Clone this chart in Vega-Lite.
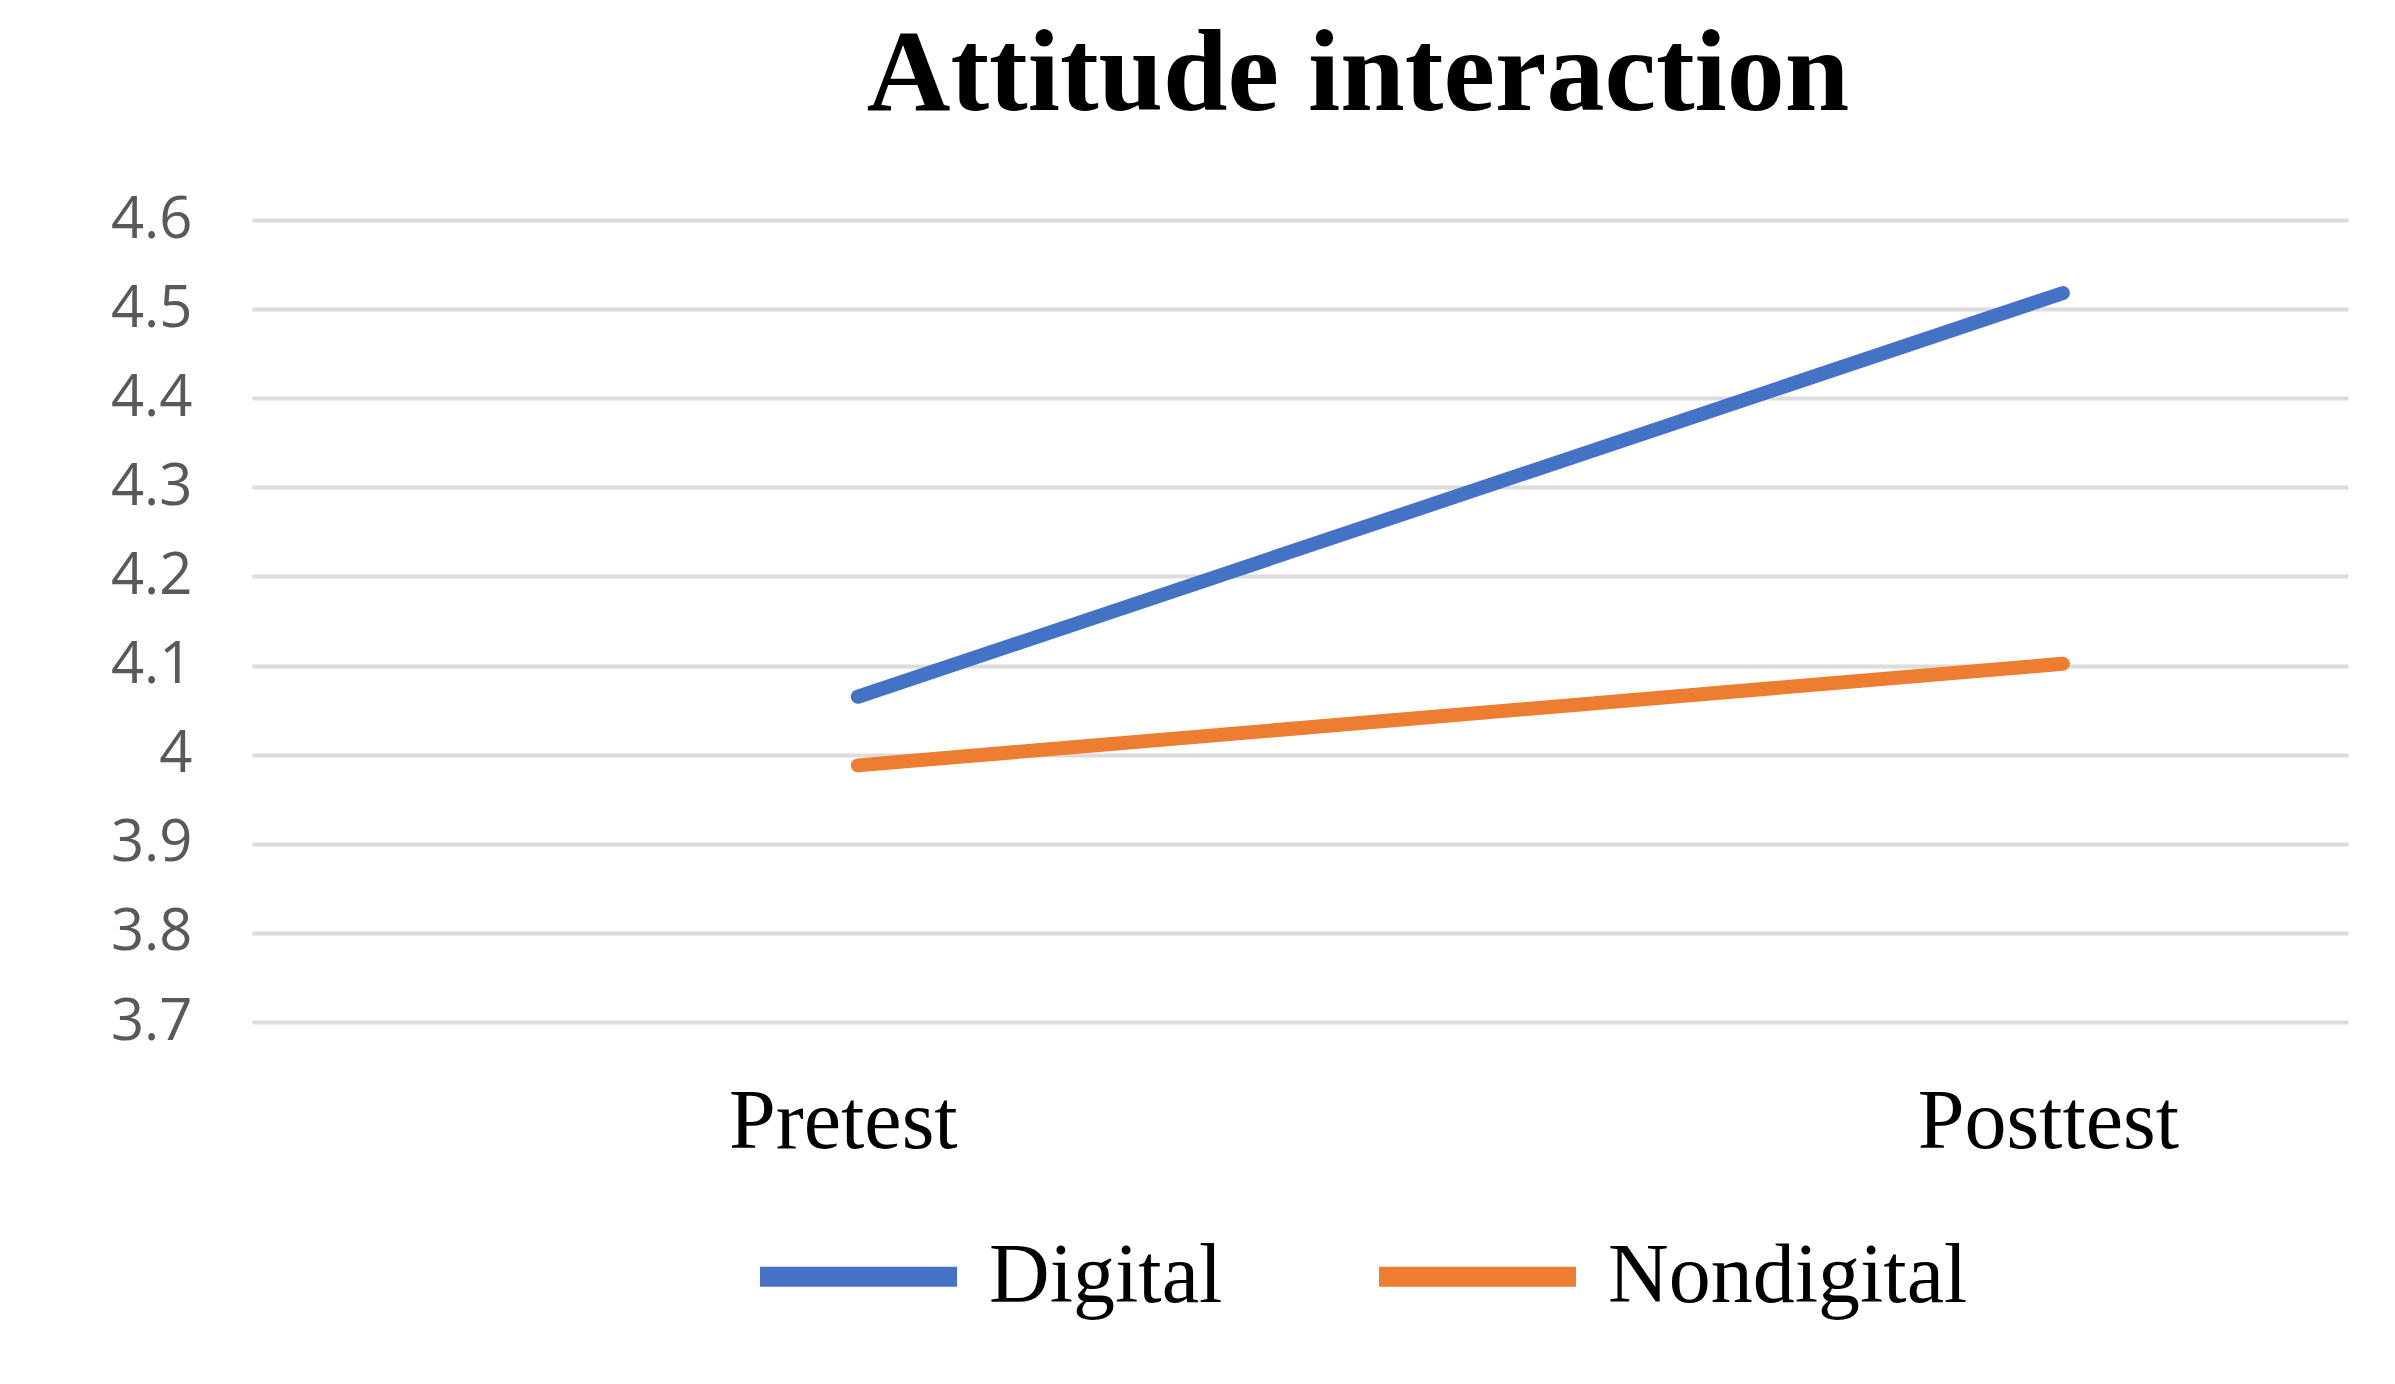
{
  "$schema": "https://vega.github.io/schema/vega-lite/v6.json",
  "width": 2096,
  "height": 802,
  "autosize": {"type": "none"},
  "padding": {"left": 252, "top": 220, "right": 47, "bottom": 362},
  "background": "white",
  "title": {
    "text": "Attitude interaction",
    "font": "Liberation Serif",
    "fontSize": 116,
    "fontWeight": "bold",
    "color": "black",
    "anchor": "middle",
    "frame": "group",
    "dx": 58,
    "offset": 57
  },
  "data": {
    "values": [
      {"test": "Pretest", "group": "Digital", "score": 4.065},
      {"test": "Posttest", "group": "Digital", "score": 4.518},
      {"test": "Pretest", "group": "Nondigital", "score": 3.988},
      {"test": "Posttest", "group": "Nondigital", "score": 4.102}
    ]
  },
  "mark": {"type": "line", "strokeWidth": 14, "strokeCap": "round"},
  "encoding": {
    "x": {
      "field": "test",
      "type": "nominal",
      "sort": ["Pretest", "Posttest"],
      "scale": {"type": "point", "padding": 0.3697, "align": 0.68},
      "axis": {
        "title": null,
        "domain": false,
        "ticks": false,
        "grid": false,
        "labelAngle": 0,
        "labelFont": "Liberation Serif",
        "labelFontSize": 84,
        "labelColor": "black",
        "labelBaseline": "alphabetic",
        "labelPadding": 125,
        "labelOffset": -15,
        "labelLimit": 0
      }
    },
    "y": {
      "field": "score",
      "type": "quantitative",
      "scale": {"domain": [3.7, 4.6], "zero": false, "nice": false},
      "axis": {
        "title": null,
        "values": [3.7, 3.8, 3.9, 4, 4.1, 4.2, 4.3, 4.4, 4.5, 4.6],
        "format": "~g",
        "domain": false,
        "ticks": false,
        "grid": true,
        "gridColor": "#dcdcdc",
        "gridWidth": 4,
        "labelFont": "Open Sans",
        "labelFontSize": 58,
        "labelColor": "#595959",
        "labelPadding": 60
      }
    },
    "color": {
      "field": "group",
      "type": "nominal",
      "scale": {"domain": ["Digital", "Nondigital"], "range": ["#4472C4", "#ED7D31"]},
      "legend": {
        "title": null,
        "orient": "none",
        "direction": "horizontal",
        "legendX": 498,
        "legendY": 948,
        "symbolType": "stroke",
        "symbolSize": 38809,
        "symbolStrokeWidth": 20,
        "labelFont": "Liberation Serif",
        "labelFontSize": 84,
        "labelColor": "black",
        "labelOffset": 22,
        "labelLimit": 0,
        "columnPadding": 116,
        "padding": 0
      }
    }
  },
  "config": {"view": {"stroke": null}}
}
